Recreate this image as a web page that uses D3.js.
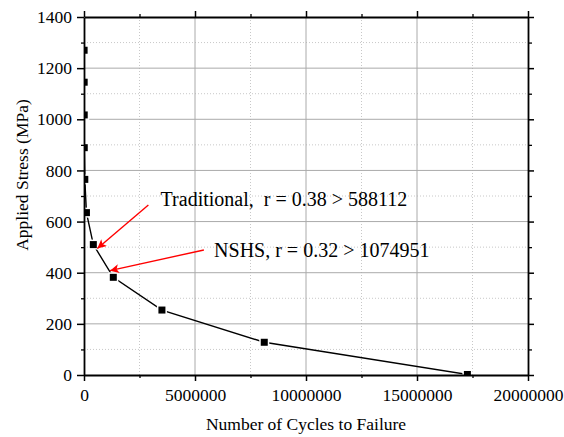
<!DOCTYPE html>
<html>
<head>
<meta charset="utf-8">
<script src="https://cdn.jsdelivr.net/npm/d3@7"></script>
<style>
  html, body { margin: 0; padding: 0; background: #fff; }
  svg { display: block; }
  svg text { font-family: 'Liberation Serif', 'DejaVu Serif', serif !important; fill: #000; }
</style>
</head>
<body>
<svg id="chart" width="564" height="437"></svg>
<script>
// ---- data ----
const cycles = [5000, 8000, 10000, 12000, 36000, 110000, 420000, 1320000, 3510000, 8120000, 17270000];
const stress = [1270, 1145, 1017, 889, 765, 635, 510, 382, 254, 128, 2];

const xTicks = [0, 5000000, 10000000, 15000000, 20000000];
const xMinorTicks = [2500000, 7500000, 12500000, 17500000];
const yTicks = [0, 200, 400, 600, 800, 1000, 1200, 1400];
const yMinorTicks = [100, 300, 500, 700, 900, 1100, 1300];

const annLabels = ["Traditional,  r = 0.38 > 588112", "NSHS, r = 0.32 > 1074951"];
const annTextX = [3450000, 5860000];
const annTextY = [661, 460];
const annFromX = [2900000, 5400000];
const annFromY = [665, 489];
const annToX = [600000, 1170000];
const annToY = [495, 408];

const xLabel = "Number of Cycles to Failure";
const yLabel = "Applied Stress (MPa)";

// ---- layout ----
const W = 564, H = 437;
const margin = {left: 84, right: 36, top: 17, bottom: 62};
const x = d3.scaleLinear().domain([0, 20000000]).range([margin.left, W - margin.right]);
const y = d3.scaleLinear().domain([0, 1400]).range([H - margin.bottom, margin.top]);
const SERIF = "'Liberation Serif', 'DejaVu Serif', serif";

const svg = d3.select("#chart").attr("font-family", SERIF);
svg.append("rect").attr("width", W).attr("height", H).attr("fill", "#fff");

svg.append("defs").append("clipPath").attr("id", "clip")
  .append("rect")
  .attr("x", x(0)).attr("y", y(1400))
  .attr("width", x(20000000) - x(0)).attr("height", y(0) - y(1400));

// grid
const grid = svg.append("g");
grid.selectAll(".xmin").data(xMinorTicks).enter().append("line")
  .attr("x1", d => x(d)).attr("x2", d => x(d)).attr("y1", y(0)).attr("y2", y(1400))
  .attr("stroke", "#c8c8c8").attr("stroke-width", 1).attr("stroke-dasharray", "1,2");
grid.selectAll(".ymin").data(yMinorTicks).enter().append("line")
  .attr("y1", d => y(d)).attr("y2", d => y(d)).attr("x1", x(0)).attr("x2", x(20000000))
  .attr("stroke", "#c8c8c8").attr("stroke-width", 1).attr("stroke-dasharray", "1,2");
grid.selectAll(".xmaj").data(xTicks.slice(1, -1)).enter().append("line")
  .attr("x1", d => x(d)).attr("x2", d => x(d)).attr("y1", y(0)).attr("y2", y(1400))
  .attr("stroke", "#aaaaaa").attr("stroke-width", 1);
grid.selectAll(".ymaj").data(yTicks.slice(1, -1)).enter().append("line")
  .attr("y1", d => y(d)).attr("y2", d => y(d)).attr("x1", x(0)).attr("x2", x(20000000))
  .attr("stroke", "#aaaaaa").attr("stroke-width", 1);

// data
const pts = cycles.map((c, i) => ({c, s: stress[i]}));
const plot = svg.append("g").attr("clip-path", "url(#clip)");
plot.append("path").datum(pts)
  .attr("fill", "none").attr("stroke", "#000").attr("stroke-width", 1.4)
  .attr("d", d3.line().x(d => x(d.c)).y(d => y(d.s)));
const ms = 7;
plot.selectAll(".pt").data(pts).enter().append("rect")
  .attr("x", d => x(d.c) - ms / 2).attr("y", d => y(d.s) - ms / 2)
  .attr("width", ms).attr("height", ms)
  .attr("fill", "#000").attr("stroke", "#fff").attr("stroke-width", 3)
  .attr("paint-order", "stroke");

// axes
function styleAxis(g) {
  g.attr("font-family", SERIF).attr("font-size", 17.5);
  g.select(".domain").attr("stroke", "#000").attr("stroke-width", 1.8);
  g.selectAll(".tick line").attr("stroke", "#000").attr("stroke-width", 1.5);
  g.selectAll(".tick text").attr("font-family", SERIF).attr("font-size", 17.5).attr("fill", "#000");
}
function minor(g, w) {
  g.select(".domain").remove();
  g.selectAll("line").attr("stroke", "#000").attr("stroke-width", w);
}
const fmt = d3.format("d");

const xb = svg.append("g").attr("transform", `translate(0,${y(0)})`)
  .call(d3.axisBottom(x).tickValues(xTicks).tickFormat(fmt).tickSize(6).tickSizeOuter(0).tickPadding(8));
styleAxis(xb);
svg.append("g").attr("transform", `translate(0,${y(0)})`)
  .call(d3.axisBottom(x).tickValues(xMinorTicks).tickFormat("").tickSize(3).tickSizeOuter(0))
  .call(g => minor(g, 1.3));

const xt = svg.append("g").attr("transform", `translate(0,${y(1400)})`)
  .call(d3.axisTop(x).tickValues(xTicks).tickFormat("").tickSize(6).tickSizeOuter(0));
styleAxis(xt);
svg.append("g").attr("transform", `translate(0,${y(1400)})`)
  .call(d3.axisTop(x).tickValues(xMinorTicks).tickFormat("").tickSize(3).tickSizeOuter(0))
  .call(g => minor(g, 1.3));

const yl = svg.append("g").attr("transform", `translate(${x(0)},0)`)
  .call(d3.axisLeft(y).tickValues(yTicks).tickFormat(fmt).tickSize(7).tickSizeOuter(0).tickPadding(5));
styleAxis(yl);
svg.append("g").attr("transform", `translate(${x(0)},0)`)
  .call(d3.axisLeft(y).tickValues(yMinorTicks).tickFormat("").tickSize(3).tickSizeOuter(0))
  .call(g => minor(g, 1.3));

const yr = svg.append("g").attr("transform", `translate(${x(20000000)},0)`)
  .call(d3.axisRight(y).tickValues(yTicks).tickFormat("").tickSize(6).tickSizeOuter(0));
styleAxis(yr);
svg.append("g").attr("transform", `translate(${x(20000000)},0)`)
  .call(d3.axisRight(y).tickValues(yMinorTicks).tickFormat("").tickSize(4).tickSizeOuter(0))
  .call(g => minor(g, 1.3));

// axis titles
svg.append("text")
  .attr("x", (x(0) + x(20000000)) / 2).attr("y", 430)
  .attr("text-anchor", "middle").attr("font-size", 17.5).attr("font-family", SERIF).text(xLabel);
svg.append("text")
  .attr("transform", `translate(28,${(y(0) + y(1400)) / 2 - 21}) rotate(-90)`)
  .attr("text-anchor", "middle").attr("font-size", 17.5).attr("font-family", SERIF).text(yLabel);

// annotations
svg.select("defs").append("marker")
  .attr("id", "arrow").attr("viewBox", "0 0 10 10")
  .attr("refX", 10).attr("refY", 5)
  .attr("markerWidth", 9).attr("markerHeight", 9)
  .attr("markerUnits", "userSpaceOnUse")
  .attr("orient", "auto")
  .append("path").attr("d", "M0,0 L10,5 L0,10 L2.5,5 Z").attr("fill", "#ff0000");

annLabels.forEach((lab, i) => {
  svg.append("line")
    .attr("x1", x(annFromX[i])).attr("y1", y(annFromY[i]))
    .attr("x2", x(annToX[i])).attr("y2", y(annToY[i]))
    .attr("stroke", "#ff0000").attr("stroke-width", 1.4)
    .attr("marker-end", "url(#arrow)");
  svg.append("text")
    .attr("x", x(annTextX[i])).attr("y", y(annTextY[i]))
    .attr("font-size", 20).attr("font-family", SERIF).style("white-space", "pre")
    .text(lab);
});
</script>
</body>
</html>
